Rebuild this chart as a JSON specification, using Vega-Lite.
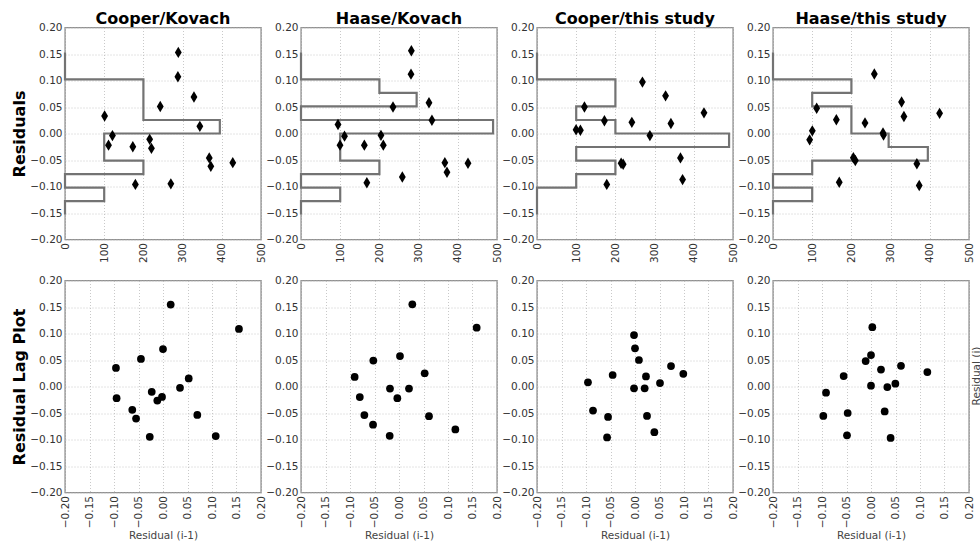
{
  "$schema": "https://vega.github.io/schema/vega-lite/v6.json",
  "background": "white",
  "padding": {"left": 10, "top": 9.5, "right": 0, "bottom": 0},
  "columns": 4,
  "spacing": {"row": 41, "column": 40},
  "bounds": "flush",
  "config": {
    "font": "DejaVu Sans",
    "view": {"stroke": "#909090", "strokeWidth": 1.4},
    "axis": {
      "domain": false, "ticks": false, "grid": true,
      "gridColor": "#bbbbbb", "gridDash": [1, 2], "gridWidth": 0.8,
      "labelFont": "DejaVu Sans", "labelFontSize": 10.5, "labelColor": "#333333", "labelPadding": 3,
      "titleFont": "DejaVu Sans"
    },
    "title": {"font": "DejaVu Sans", "fontSize": 16, "fontWeight": "bold", "color": "#000000"}
  },
  "datasets": {
    "hist": [
      {"p":"CK","k":0,"x":0,"y":-0.153},{"p":"CK","k":1,"x":0,"y":-0.153},{"p":"CK","k":2,"x":100,"y":-0.1275},{"p":"CK","k":3,"x":0,"y":-0.102},{"p":"CK","k":4,"x":200,"y":-0.0765},{"p":"CK","k":5,"x":100,"y":-0.051},{"p":"CK","k":6,"x":100,"y":-0.0255},{"p":"CK","k":7,"x":395,"y":0},{"p":"CK","k":8,"x":200,"y":0.0255},{"p":"CK","k":9,"x":200,"y":0.051},{"p":"CK","k":10,"x":200,"y":0.0765},{"p":"CK","k":11,"x":0,"y":0.102},{"p":"CK","k":12,"x":0,"y":0.1275},{"p":"CK","k":13,"x":0,"y":0.153},
      {"p":"HK","k":0,"x":0,"y":-0.153},{"p":"HK","k":1,"x":0,"y":-0.153},{"p":"HK","k":2,"x":100,"y":-0.1275},{"p":"HK","k":3,"x":0,"y":-0.102},{"p":"HK","k":4,"x":200,"y":-0.0765},{"p":"HK","k":5,"x":100,"y":-0.051},{"p":"HK","k":6,"x":100,"y":-0.0255},{"p":"HK","k":7,"x":490,"y":0},{"p":"HK","k":8,"x":0,"y":0.0255},{"p":"HK","k":9,"x":295,"y":0.051},{"p":"HK","k":10,"x":200,"y":0.0765},{"p":"HK","k":11,"x":0,"y":0.102},{"p":"HK","k":12,"x":0,"y":0.1275},{"p":"HK","k":13,"x":0,"y":0.153},
      {"p":"CT","k":0,"x":0,"y":-0.153},{"p":"CT","k":1,"x":0,"y":-0.153},{"p":"CT","k":2,"x":0,"y":-0.1275},{"p":"CT","k":3,"x":100,"y":-0.102},{"p":"CT","k":4,"x":200,"y":-0.0765},{"p":"CT","k":5,"x":100,"y":-0.051},{"p":"CT","k":6,"x":490,"y":-0.0255},{"p":"CT","k":7,"x":200,"y":0},{"p":"CT","k":8,"x":100,"y":0.0255},{"p":"CT","k":9,"x":200,"y":0.051},{"p":"CT","k":10,"x":200,"y":0.0765},{"p":"CT","k":11,"x":0,"y":0.102},{"p":"CT","k":12,"x":0,"y":0.1275},{"p":"CT","k":13,"x":0,"y":0.153},
      {"p":"HT","k":0,"x":0,"y":-0.153},{"p":"HT","k":1,"x":0,"y":-0.153},{"p":"HT","k":2,"x":100,"y":-0.1275},{"p":"HT","k":3,"x":0,"y":-0.102},{"p":"HT","k":4,"x":100,"y":-0.0765},{"p":"HT","k":5,"x":395,"y":-0.051},{"p":"HT","k":6,"x":295,"y":-0.0255},{"p":"HT","k":7,"x":200,"y":0},{"p":"HT","k":8,"x":200,"y":0.0255},{"p":"HT","k":9,"x":100,"y":0.051},{"p":"HT","k":10,"x":200,"y":0.0765},{"p":"HT","k":11,"x":0,"y":0.102},{"p":"HT","k":12,"x":0,"y":0.1275},{"p":"HT","k":13,"x":0,"y":0.153}
    ],
    "scatter": [
      {"p":"CK","x":101,"y":0.033},{"p":"CK","x":121,"y":-0.004},{"p":"CK","x":111,"y":-0.022},{"p":"CK","x":173,"y":-0.025},{"p":"CK","x":179.5,"y":-0.096},{"p":"CK","x":216,"y":-0.011},{"p":"CK","x":220.5,"y":-0.028},{"p":"CK","x":243,"y":0.051},{"p":"CK","x":270,"y":-0.095},{"p":"CK","x":289,"y":0.153},{"p":"CK","x":288,"y":0.107},{"p":"CK","x":329,"y":0.069},{"p":"CK","x":344,"y":0.0135},{"p":"CK","x":368,"y":-0.046},{"p":"CK","x":372,"y":-0.062},{"p":"CK","x":428,"y":-0.055},
      {"p":"HK","x":94.4,"y":0.017},{"p":"HK","x":111,"y":-0.005},{"p":"HK","x":99.5,"y":-0.022},{"p":"HK","x":161.6,"y":-0.022},{"p":"HK","x":168,"y":-0.093},{"p":"HK","x":204,"y":-0.0035},{"p":"HK","x":210,"y":-0.022},{"p":"HK","x":234.7,"y":0.05},{"p":"HK","x":258.5,"y":-0.082},{"p":"HK","x":281.5,"y":0.156},{"p":"HK","x":280.6,"y":0.112},{"p":"HK","x":326.5,"y":0.058},{"p":"HK","x":334,"y":0.025},{"p":"HK","x":367,"y":-0.055},{"p":"HK","x":372.4,"y":-0.073},{"p":"HK","x":426,"y":-0.056},
      {"p":"CT","x":99.7,"y":0.007},{"p":"CT","x":110.7,"y":0.006},{"p":"CT","x":121,"y":0.05},{"p":"CT","x":172,"y":0.024},{"p":"CT","x":178,"y":-0.096},{"p":"CT","x":214.6,"y":-0.056},{"p":"CT","x":219.8,"y":-0.058},{"p":"CT","x":242,"y":0.021},{"p":"CT","x":269,"y":0.097},{"p":"CT","x":288,"y":-0.004},{"p":"CT","x":328,"y":0.071},{"p":"CT","x":341.6,"y":0.019},{"p":"CT","x":366,"y":-0.046},{"p":"CT","x":371.4,"y":-0.087},{"p":"CT","x":426,"y":0.039},
      {"p":"HT","x":93.5,"y":-0.012},{"p":"HT","x":100.3,"y":0.005},{"p":"HT","x":111.4,"y":0.0476},{"p":"HT","x":161.6,"y":0.026},{"p":"HT","x":169,"y":-0.092},{"p":"HT","x":205,"y":-0.0457},{"p":"HT","x":210,"y":-0.051},{"p":"HT","x":234.7,"y":0.02},{"p":"HT","x":258.5,"y":0.1124},{"p":"HT","x":280.6,"y":0.001},{"p":"HT","x":282,"y":-0.003},{"p":"HT","x":328,"y":0.0595},{"p":"HT","x":334,"y":0.032},{"p":"HT","x":367,"y":-0.057},{"p":"HT","x":373,"y":-0.098},{"p":"HT","x":425,"y":0.038}
    ],
    "lag": [
      {"p":"CK","x":-0.096,"y":0.035},{"p":"CK","x":-0.0947,"y":-0.022},{"p":"CK","x":-0.045,"y":0.052},{"p":"CK","x":-0.0627,"y":-0.044},{"p":"CK","x":-0.055,"y":-0.0606},{"p":"CK","x":-0.027,"y":-0.095},{"p":"CK","x":-0.023,"y":-0.01},{"p":"CK","x":-0.0116,"y":-0.0265},{"p":"CK","x":-0.002,"y":-0.0196},{"p":"CK","x":0.0,"y":0.0707},{"p":"CK","x":0.0157,"y":0.1546},{"p":"CK","x":0.0347,"y":-0.0025},{"p":"CK","x":0.0525,"y":0.0151},{"p":"CK","x":0.07,"y":-0.0536},{"p":"CK","x":0.1076,"y":-0.0934},{"p":"CK","x":0.155,"y":0.1085},
      {"p":"HK","x":-0.0905,"y":0.018},{"p":"HK","x":-0.08,"y":-0.02},{"p":"HK","x":-0.0707,"y":-0.054},{"p":"HK","x":-0.0524,"y":0.049},{"p":"HK","x":-0.053,"y":-0.072},{"p":"HK","x":-0.019,"y":-0.093},{"p":"HK","x":-0.0184,"y":-0.004},{"p":"HK","x":-0.0034,"y":-0.022},{"p":"HK","x":0.002,"y":0.0575},{"p":"HK","x":0.0204,"y":-0.004},{"p":"HK","x":0.0272,"y":0.155},{"p":"HK","x":0.0524,"y":0.025},{"p":"HK","x":0.0612,"y":-0.056},{"p":"HK","x":0.115,"y":-0.081},{"p":"HK","x":0.1585,"y":0.111},
      {"p":"CT","x":-0.096,"y":0.008},{"p":"CT","x":-0.0857,"y":-0.0455},{"p":"CT","x":-0.0456,"y":0.0217},{"p":"CT","x":-0.055,"y":-0.0575},{"p":"CT","x":-0.057,"y":-0.096},{"p":"CT","x":-0.002,"y":0.097},{"p":"CT","x":0.0,"y":0.072},{"p":"CT","x":0.008,"y":0.05},{"p":"CT","x":-0.002,"y":-0.0035},{"p":"CT","x":0.0224,"y":0.019},{"p":"CT","x":0.0197,"y":-0.0035},{"p":"CT","x":0.0245,"y":-0.0556},{"p":"CT","x":0.0395,"y":-0.0863},{"p":"CT","x":0.051,"y":0.0066},{"p":"CT","x":0.0735,"y":0.0386},{"p":"CT","x":0.0986,"y":0.024},
      {"p":"HT","x":-0.0973,"y":-0.0556},{"p":"HT","x":-0.0918,"y":-0.0116},{"p":"HT","x":-0.0558,"y":0.0198},{"p":"HT","x":-0.0476,"y":-0.05},{"p":"HT","x":-0.049,"y":-0.092},{"p":"HT","x":-0.0109,"y":0.048},{"p":"HT","x":0.0,"y":0.0593},{"p":"HT","x":0.0027,"y":0.112},{"p":"HT","x":0.0,"y":0.0016},{"p":"HT","x":0.0204,"y":0.032},{"p":"HT","x":0.0333,"y":-0.001},{"p":"HT","x":0.0279,"y":-0.047},{"p":"HT","x":0.04,"y":-0.097},{"p":"HT","x":0.0497,"y":0.0053},{"p":"HT","x":0.0612,"y":0.039},{"p":"HT","x":0.115,"y":0.0273}
    ]
  },
  "concat": [
    {
      "width": 196, "height": 212,
      "title": {"text": "Cooper/Kovach", "frame": "group", "baseline": "alphabetic", "offset": -17},
      "encoding": {
        "x": {"field": "x", "type": "quantitative", "scale": {"domain": [0, 500], "nice": false, "zero": false}, "axis": {"values": [0, 100, 200, 300, 400, 500], "format": "d", "labelAngle": -90, "title": null}},
        "y": {"field": "y", "type": "quantitative", "scale": {"domain": [-0.2, 0.2], "nice": false, "zero": false}, "axis": {"values": [-0.2, -0.15, -0.1, -0.05, 0, 0.05, 0.1, 0.15, 0.2], "format": ".2f", "title": "Residuals", "titleX": -46, "titleY": 106, "titleAngle": 270, "titleBaseline": "middle", "titleAlign": "center", "titleFontSize": 16, "titleFontWeight": "bold", "titleColor": "#000000"}}
      },
      "layer": [
        {"data": {"name": "hist"}, "transform": [{"filter": "datum.p === 'CK'"}], "mark": {"type": "line", "interpolate": "step-before", "color": "#737373", "strokeWidth": 2.2}, "encoding": {"order": {"field": "k", "type": "quantitative"}}},
        {"data": {"name": "scatter"}, "transform": [{"filter": "datum.p === 'CK'"}], "mark": {"type": "point", "shape": "M0,-1L0.6,0L0,1L-0.6,0Z", "filled": true, "color": "#000000", "size": 130, "opacity": 1}}
      ]
    },
    {
      "width": 196, "height": 212,
      "title": {"text": "Haase/Kovach", "frame": "group", "baseline": "alphabetic", "offset": -17},
      "encoding": {
        "x": {"field": "x", "type": "quantitative", "scale": {"domain": [0, 500], "nice": false, "zero": false}, "axis": {"values": [0, 100, 200, 300, 400, 500], "format": "d", "labelAngle": -90, "title": null}},
        "y": {"field": "y", "type": "quantitative", "scale": {"domain": [-0.2, 0.2], "nice": false, "zero": false}, "axis": {"values": [-0.2, -0.15, -0.1, -0.05, 0, 0.05, 0.1, 0.15, 0.2], "format": ".2f", "title": null}}
      },
      "layer": [
        {"data": {"name": "hist"}, "transform": [{"filter": "datum.p === 'HK'"}], "mark": {"type": "line", "interpolate": "step-before", "color": "#737373", "strokeWidth": 2.2}, "encoding": {"order": {"field": "k", "type": "quantitative"}}},
        {"data": {"name": "scatter"}, "transform": [{"filter": "datum.p === 'HK'"}], "mark": {"type": "point", "shape": "M0,-1L0.6,0L0,1L-0.6,0Z", "filled": true, "color": "#000000", "size": 130, "opacity": 1}}
      ]
    },
    {
      "width": 196, "height": 212,
      "title": {"text": "Cooper/this study", "frame": "group", "baseline": "alphabetic", "offset": -17},
      "encoding": {
        "x": {"field": "x", "type": "quantitative", "scale": {"domain": [0, 500], "nice": false, "zero": false}, "axis": {"values": [0, 100, 200, 300, 400, 500], "format": "d", "labelAngle": -90, "title": null}},
        "y": {"field": "y", "type": "quantitative", "scale": {"domain": [-0.2, 0.2], "nice": false, "zero": false}, "axis": {"values": [-0.2, -0.15, -0.1, -0.05, 0, 0.05, 0.1, 0.15, 0.2], "format": ".2f", "title": null}}
      },
      "layer": [
        {"data": {"name": "hist"}, "transform": [{"filter": "datum.p === 'CT'"}], "mark": {"type": "line", "interpolate": "step-before", "color": "#737373", "strokeWidth": 2.2}, "encoding": {"order": {"field": "k", "type": "quantitative"}}},
        {"data": {"name": "scatter"}, "transform": [{"filter": "datum.p === 'CT'"}], "mark": {"type": "point", "shape": "M0,-1L0.6,0L0,1L-0.6,0Z", "filled": true, "color": "#000000", "size": 130, "opacity": 1}}
      ]
    },
    {
      "width": 196, "height": 212,
      "title": {"text": "Haase/this study", "frame": "group", "baseline": "alphabetic", "offset": -17},
      "encoding": {
        "x": {"field": "x", "type": "quantitative", "scale": {"domain": [0, 500], "nice": false, "zero": false}, "axis": {"values": [0, 100, 200, 300, 400, 500], "format": "d", "labelAngle": -90, "title": null}},
        "y": {"field": "y", "type": "quantitative", "scale": {"domain": [-0.2, 0.2], "nice": false, "zero": false}, "axis": {"values": [-0.2, -0.15, -0.1, -0.05, 0, 0.05, 0.1, 0.15, 0.2], "format": ".2f", "title": null}}
      },
      "layer": [
        {"data": {"name": "hist"}, "transform": [{"filter": "datum.p === 'HT'"}], "mark": {"type": "line", "interpolate": "step-before", "color": "#737373", "strokeWidth": 2.2}, "encoding": {"order": {"field": "k", "type": "quantitative"}}},
        {"data": {"name": "scatter"}, "transform": [{"filter": "datum.p === 'HT'"}], "mark": {"type": "point", "shape": "M0,-1L0.6,0L0,1L-0.6,0Z", "filled": true, "color": "#000000", "size": 130, "opacity": 1}}
      ]
    },
    {
      "width": 196, "height": 212,
      "data": {"name": "lag"},
      "transform": [{"filter": "datum.p === 'CK'"}],
      "mark": {"type": "point", "shape": "circle", "filled": true, "color": "#000000", "size": 60, "opacity": 1},
      "encoding": {
        "x": {"field": "x", "type": "quantitative", "scale": {"domain": [-0.2, 0.2], "nice": false, "zero": false}, "axis": {"values": [-0.2, -0.15, -0.1, -0.05, 0, 0.05, 0.1, 0.15, 0.2], "format": ".2f", "labelAngle": -90, "title": "Residual (i-1)", "titleY": 43, "titleBaseline": "middle", "titleFontSize": 10.5, "titleFontWeight": "normal", "titleColor": "#444444"}},
        "y": {"field": "y", "type": "quantitative", "scale": {"domain": [-0.2, 0.2], "nice": false, "zero": false}, "axis": {"values": [-0.2, -0.15, -0.1, -0.05, 0, 0.05, 0.1, 0.15, 0.2], "format": ".2f", "title": "Residual Lag Plot", "titleX": -46, "titleY": 106, "titleAngle": 270, "titleBaseline": "middle", "titleAlign": "center", "titleFontSize": 16, "titleFontWeight": "bold", "titleColor": "#000000"}}
      }
    },
    {
      "width": 196, "height": 212,
      "data": {"name": "lag"},
      "transform": [{"filter": "datum.p === 'HK'"}],
      "mark": {"type": "point", "shape": "circle", "filled": true, "color": "#000000", "size": 60, "opacity": 1},
      "encoding": {
        "x": {"field": "x", "type": "quantitative", "scale": {"domain": [-0.2, 0.2], "nice": false, "zero": false}, "axis": {"values": [-0.2, -0.15, -0.1, -0.05, 0, 0.05, 0.1, 0.15, 0.2], "format": ".2f", "labelAngle": -90, "title": "Residual (i-1)", "titleY": 43, "titleBaseline": "middle", "titleFontSize": 10.5, "titleFontWeight": "normal", "titleColor": "#444444"}},
        "y": {"field": "y", "type": "quantitative", "scale": {"domain": [-0.2, 0.2], "nice": false, "zero": false}, "axis": {"values": [-0.2, -0.15, -0.1, -0.05, 0, 0.05, 0.1, 0.15, 0.2], "format": ".2f", "title": null}}
      }
    },
    {
      "width": 196, "height": 212,
      "data": {"name": "lag"},
      "transform": [{"filter": "datum.p === 'CT'"}],
      "mark": {"type": "point", "shape": "circle", "filled": true, "color": "#000000", "size": 60, "opacity": 1},
      "encoding": {
        "x": {"field": "x", "type": "quantitative", "scale": {"domain": [-0.2, 0.2], "nice": false, "zero": false}, "axis": {"values": [-0.2, -0.15, -0.1, -0.05, 0, 0.05, 0.1, 0.15, 0.2], "format": ".2f", "labelAngle": -90, "title": "Residual (i-1)", "titleY": 43, "titleBaseline": "middle", "titleFontSize": 10.5, "titleFontWeight": "normal", "titleColor": "#444444"}},
        "y": {"field": "y", "type": "quantitative", "scale": {"domain": [-0.2, 0.2], "nice": false, "zero": false}, "axis": {"values": [-0.2, -0.15, -0.1, -0.05, 0, 0.05, 0.1, 0.15, 0.2], "format": ".2f", "title": null}}
      }
    },
    {
      "width": 196, "height": 212,
      "data": {"name": "lag"},
      "transform": [{"filter": "datum.p === 'HT'"}],
      "encoding": {
        "x": {"field": "x", "type": "quantitative", "scale": {"domain": [-0.2, 0.2], "nice": false, "zero": false}, "axis": {"values": [-0.2, -0.15, -0.1, -0.05, 0, 0.05, 0.1, 0.15, 0.2], "format": ".2f", "labelAngle": -90, "title": "Residual (i-1)", "titleY": 43, "titleBaseline": "middle", "titleFontSize": 10.5, "titleFontWeight": "normal", "titleColor": "#444444"}}
      },
      "layer": [
        {
          "mark": {"type": "point", "shape": "circle", "filled": true, "color": "#000000", "size": 60, "opacity": 1},
          "encoding": {
            "y": {"field": "y", "type": "quantitative", "scale": {"domain": [-0.2, 0.2], "nice": false, "zero": false}, "axis": {"values": [-0.2, -0.15, -0.1, -0.05, 0, 0.05, 0.1, 0.15, 0.2], "format": ".2f", "title": null}}
          }
        },
        {
          "mark": {"type": "point", "opacity": 0},
          "encoding": {
            "y": {"field": "y", "type": "quantitative", "scale": {"domain": [-0.2, 0.2], "nice": false, "zero": false}, "axis": {"orient": "right", "labels": false, "grid": false, "ticks": false, "domain": false, "title": "Residual (i)", "titleX": 7, "titleY": 95, "titleAngle": 270, "titleBaseline": "middle", "titleAlign": "center", "titleFontSize": 10.5, "titleFontWeight": "normal", "titleColor": "#444444"}}
          }
        }
      ],
      "resolve": {"axis": {"y": "independent"}}
    }
  ]
}
